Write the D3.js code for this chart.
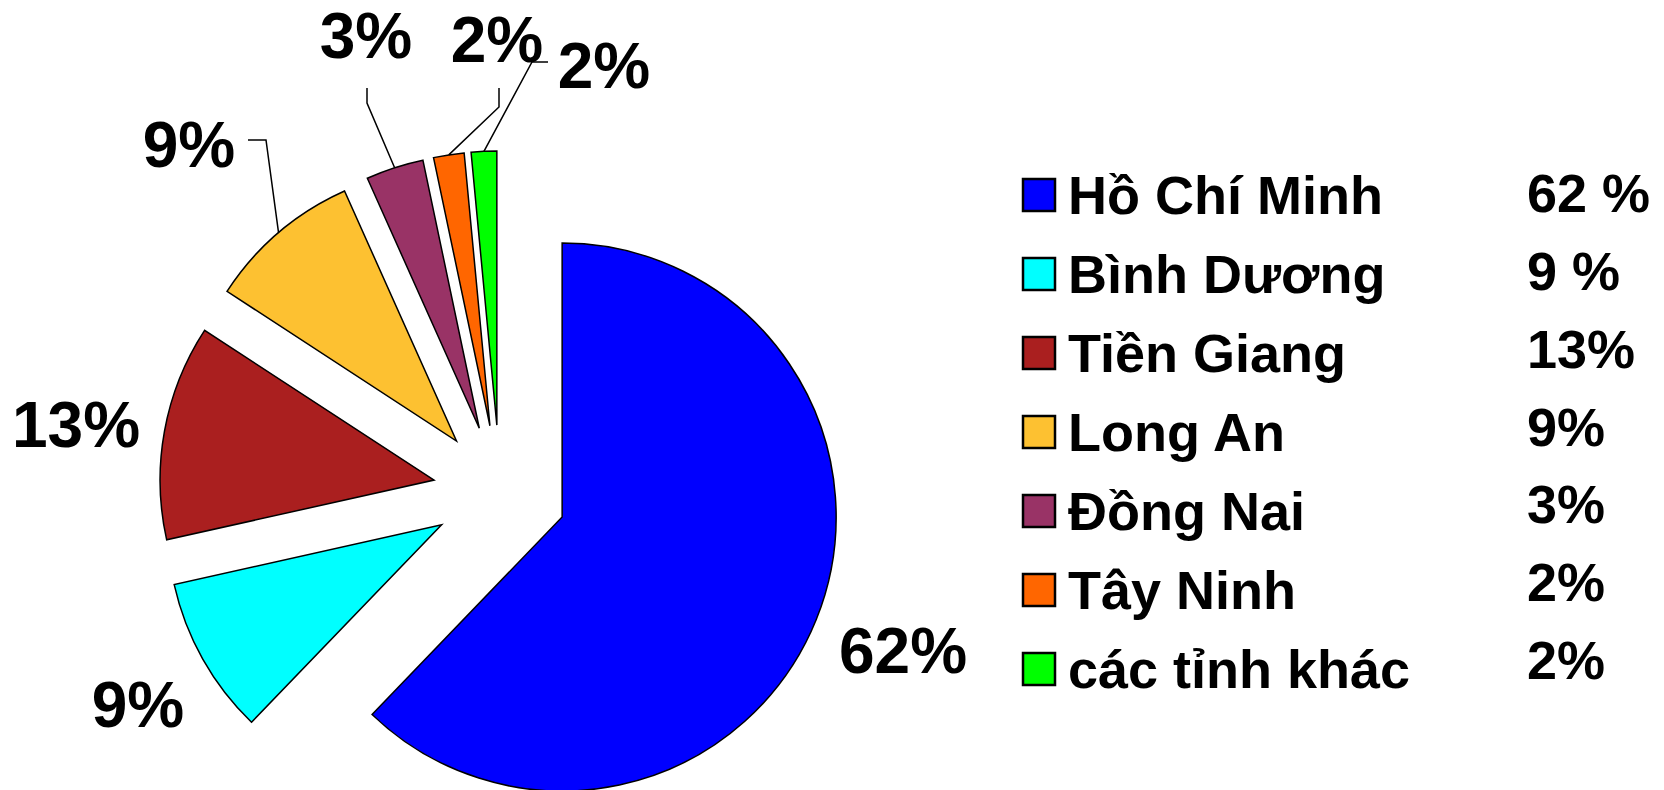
<!DOCTYPE html>
<meta charset="utf-8">
<style>
body { margin: 0; background: #fff; }
svg text { font-family: "Liberation Sans", Arial, sans-serif; font-weight: bold; fill: #000; }
.slice { stroke: #000; stroke-width: 1.5; }
.leader { fill: none; stroke: #000; stroke-width: 1.5; }
</style>
<body>
<script src="https://d3js.org/d3.v7.min.js"></script>
<script>

// data
var regions = ["Hồ Chí Minh", "Bình Dương", "Tiền Giang", "Long An", "Đồng Nai", "Tây Ninh", "các tỉnh khác"];
var shares = [62.2, 9.3, 12.7, 9.1, 3.4, 1.8, 1.5];
var shareText = ["62 %", "9 %", "13%", "9%", "3%", "2%", "2%"];
var colors = ["#0000ff", "#00ffff", "#aa1f1f", "#fdc131", "#993366", "#ff6600", "#00ff00"];

// layout
var width = 1664, height = 790;
var cx = 500, cy = 492, radius = 274, explode = 67;

// where the slice labels sit (text centre, baseline)
var labelPos = [[903, 673], [138, 727], [76, 447], [189, 167], [366, 58], [497, 62], [604, 88]];
// elbow points of the leader lines, the last point is taken on the slice
var leaders = [
  {i: 3, pts: [[248, 140], [266, 140]]},
  {i: 4, pts: [[367, 88], [367, 103]]},
  {i: 5, pts: [[499, 88], [499, 107]]},
  {i: 6, pts: [[548, 62], [532, 62]]}
];

var svg = d3.select("body").append("svg")
    .attr("width", width)
    .attr("height", height);

var pie = d3.pie().sort(null).value(function(d) { return d; });
var arcs = pie(shares);

var arc = d3.arc().innerRadius(0).outerRadius(radius);

function offset(d) {
  var a = (d.startAngle + d.endAngle) / 2;
  return [cx + explode * Math.sin(a), cy - explode * Math.cos(a)];
}

svg.append("g").selectAll("path")
    .data(arcs)
    .enter().append("path")
    .attr("class", "slice")
    .attr("transform", function(d) { var o = offset(d); return "translate(" + o[0] + "," + o[1] + ")"; })
    .attr("fill", function(d, i) { return colors[i]; })
    .attr("d", arc);

// leader lines to the outer edge at the slice's middle angle
leaders.forEach(function(l) {
  var d = arcs[l.i];
  var a = (d.startAngle + d.endAngle) / 2;
  var o = offset(d);
  var end = [o[0] + radius * Math.sin(a), o[1] - radius * Math.cos(a)];
  svg.append("path")
     .attr("class", "leader")
     .attr("d", d3.line()(l.pts.concat([end])));
});

svg.append("g").selectAll("text")
    .data(arcs)
    .enter().append("text")
    .attr("x", function(d, i) { return labelPos[i][0]; })
    .attr("y", function(d, i) { return labelPos[i][1]; })
    .attr("text-anchor", "middle")
    .style("font-size", "64px")
    .text(function(d) { return Math.round(d.data) + "%"; });

// legend
var rowY = d3.scaleLinear().domain([0, 6]).range([195, 669]);
var pctY = d3.scaleLinear().domain([0, 6]).range([212, 679]);

var legend = svg.append("g");
var row = legend.selectAll("g")
    .data(regions)
    .enter().append("g");

row.append("rect")
    .attr("x", 1023)
    .attr("y", function(d, i) { return rowY(i) - 16; })
    .attr("width", 32)
    .attr("height", 32)
    .attr("fill", function(d, i) { return colors[i]; })
    .attr("stroke", "#000")
    .attr("stroke-width", 2.5);

row.append("text")
    .attr("x", 1068)
    .attr("y", function(d, i) { return rowY(i) + 19; })
    .style("font-size", "54px")
    .text(function(d) { return d; });

row.append("text")
    .attr("x", 1527)
    .attr("y", function(d, i) { return pctY(i); })
    .style("font-size", "54px")
    .text(function(d, i) { return shareText[i]; });

</script>
</body>
